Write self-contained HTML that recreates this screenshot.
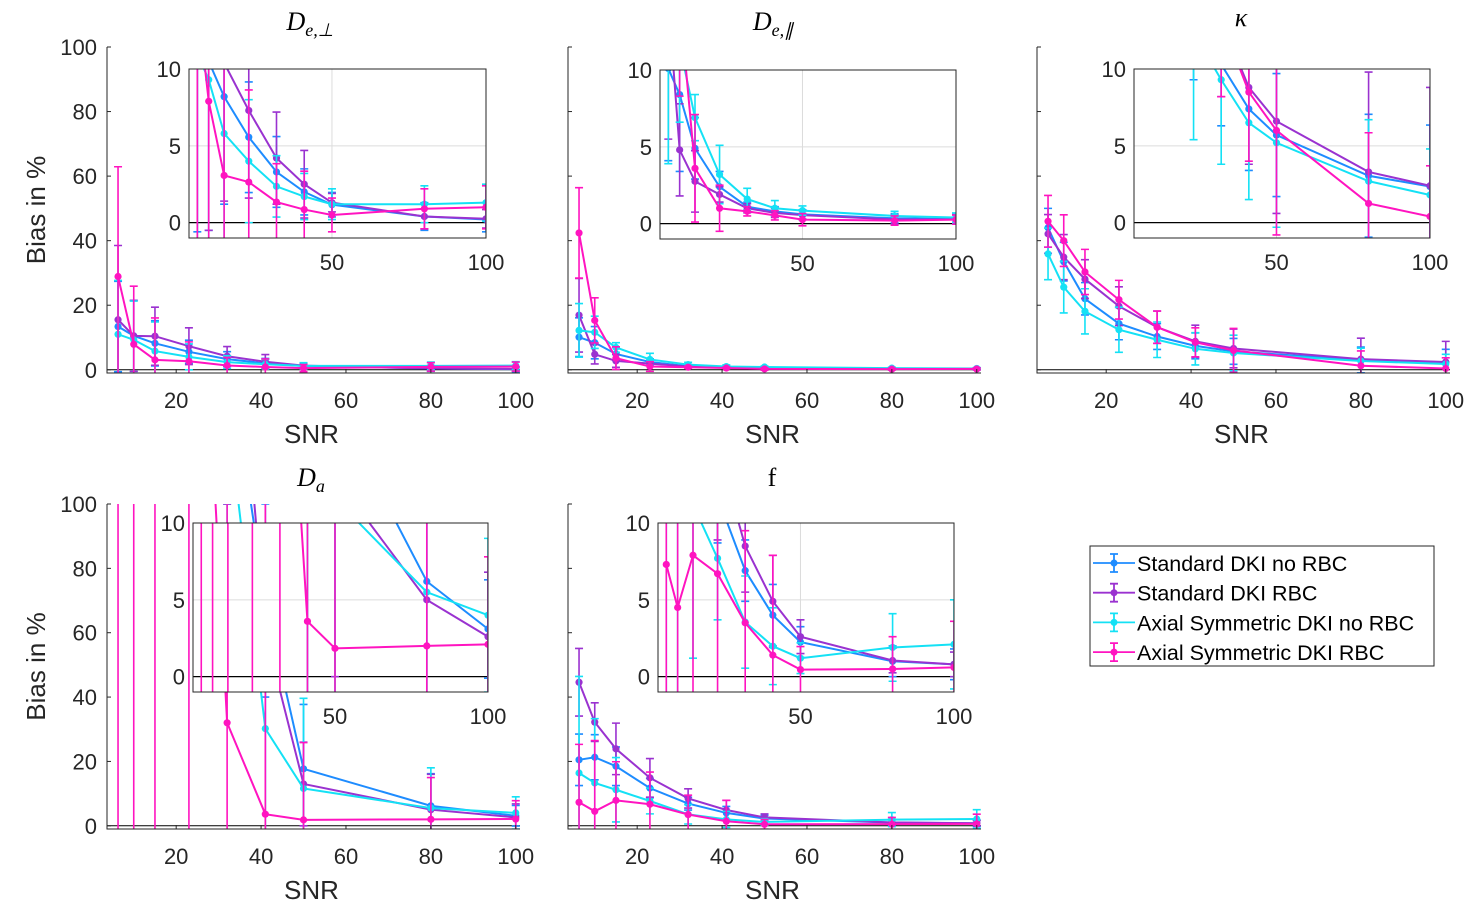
<!DOCTYPE html>
<html><head><meta charset="utf-8"><style>
html,body{margin:0;padding:0;background:#fff;overflow:hidden;width:1478px;height:908px;}
svg{display:block;font-family:"Liberation Sans",sans-serif;overflow:hidden;}
</style></head><body>
<svg id="fig" width="1478" height="908" viewBox="0 0 1478 908" xmlns="http://www.w3.org/2000/svg">
<defs></defs>
</svg>
<script>
const snr = [6.3,10,15,23,32,41,50,80,100];
const xTicks = [20,40,60,80,100];
const yTicks = [0,20,40,60,80,100];
const insetXTicks = [50,100];
const insetYTicks = [0,5,10];
const seriesNames = ["Standard DKI no RBC","Standard DKI RBC","Axial Symmetric DKI no RBC","Axial Symmetric DKI RBC"];
const seriesColors = ["#1E8CFF","#9A32D0","#14E1F5","#FF14C0"];

// Panel 1: De,perp
const p1_blue = [13.4,10.5,8.2,5.56,3.3,2.0,1.17,0.4,0.2];
const p1_blue_err = [14,11,7,3.6,2.3,1.5,0.8,0.9,0.8];
const p1_purple = [15.5,10.5,10.4,7.3,4.2,2.5,1.3,0.4,0.25];
const p1_purple_err = [23,11,9,5.7,3,2.2,0.6,0.8,0.6];
const p1_cyan = [11,9.3,5.8,4.0,2.36,1.7,1.2,1.2,1.3];
const p1_cyan_err = [16.7,12,9,4,2,1.5,1.0,1.2,1.2];
const p1_magenta = [28.9,7.9,3.07,2.64,1.34,0.85,0.5,0.9,1.0];
const p1_magenta_err = [34,18,13,6,2.5,2.5,1.1,1.3,1.4];

// Panel 2: De,par
const p2_blue = [10.1,8.4,4.9,2.4,1.1,0.8,0.6,0.35,0.3];
const p2_blue_err = [6,5,2,1,0.3,0.3,0.3,0.3,0.3];
const p2_purple = [16.9,4.8,2.75,1.9,1.0,0.7,0.55,0.27,0.27];
const p2_purple_err = [11.4,3,2,0.5,0.3,0.3,0.3,0.3,0.3];
const p2_cyan = [12.2,11.6,6.9,3.2,1.6,1.0,0.85,0.5,0.4];
const p2_cyan_err = [8.3,5,1.5,1.9,0.7,0.5,0.3,0.3,0.3];
const p2_magenta = [42.4,15.3,3.6,1.0,0.8,0.54,0.26,0.2,0.26];
const p2_magenta_err = [14,7,3.5,1.5,0.3,0.3,0.4,0.3,0.3];

// Panel 3: kappa
const p3_blue = [44,33.5,22,14.3,10.3,7.4,5.7,3.05,2.35];
const p3_blue_err = [6,6,5,5,4,4,4,4,4];
const p3_purple = [42.1,34.9,28.1,19.7,13.2,8.8,6.6,3.3,2.4];
const p3_purple_err = [6,7,6,6,5,5,6,6.5,6.4];
const p3_cyan = [35.9,25.6,18.1,12.4,9.3,6.5,5.2,2.7,1.8];
const p3_cyan_err = [8,8,7,7,5.5,5,5.5,4,3];
const p3_magenta = [46,40,30.3,21.7,13.2,8.5,6.0,1.25,0.4];
const p3_magenta_err = [8,8,7,6,5,4.5,6.8,4.6,3.3];

// Panel 4: Da
const p4_blue = [2000,1500,1000,600,150,70,17.7,6.2,3.1];
const p4_blue_err = [100,100,100,100,50,30,20,10,3.2];
const p4_purple = [2000,1500,1000,600,200,60,13,5.0,2.6];
const p4_purple_err = [100,100,100,100,100,80,13,11,4.2];
const p4_cyan = [2000,1500,1000,600,130,30.2,11.6,5.5,4.0];
const p4_cyan_err = [100,100,100,100,50,40,28,12.5,5];
const p4_magenta = [400,350,320,300,32,3.6,1.84,2.0,2.1];
const p4_magenta_err = [2000,2000,2000,2000,200,200,24,13,5.7];

// Panel 5: f
const p5_blue = [20.5,21.3,18.5,11.7,6.9,4.0,2.25,1.0,0.8];
const p5_blue_err = [8,7,6,3,2,2,1,1,1];
const p5_purple = [44.6,32.2,23.9,14.9,8.5,4.9,2.6,1.05,0.8];
const p5_purple_err = [10.5,6,8,6,3,3,1.1,0.8,0.8];
const p5_cyan = [16.4,13.3,11.2,7.7,3.55,1.98,1.2,1.9,2.1];
const p5_cyan_err = [30,20,10,4,3,2.5,1,2.2,2.9];
const p5_magenta = [7.3,4.5,7.9,6.7,3.5,1.4,0.46,0.5,0.6];
const p5_magenta_err = [18,22,12,10,6,6.5,1.5,2.1,3];

const NS = "http://www.w3.org/2000/svg";
const svg = document.getElementById("fig");
function mk(tag, attrs, parent){
  const e = document.createElementNS(NS, tag);
  for (const k in attrs) e.setAttribute(k, attrs[k]);
  (parent||svg).appendChild(e);
  return e;
}

const panels = [
  {id:"de-perp", main:{l:107,r:520,t:47,b:373}, inset:{l:189,r:486,t:69,b:238}, ylab:true,
   data:[[p1_blue,p1_blue_err],[p1_purple,p1_purple_err],[p1_cyan,p1_cyan_err],[p1_magenta,p1_magenta_err]]},
  {id:"de-par", main:{l:568,r:981,t:47,b:373}, inset:{l:660,r:956,t:70,b:239}, ylab:false,
   data:[[p2_blue,p2_blue_err],[p2_purple,p2_purple_err],[p2_cyan,p2_cyan_err],[p2_magenta,p2_magenta_err]]},
  {id:"kappa", main:{l:1037,r:1450,t:47,b:373}, inset:{l:1134,r:1430,t:69,b:238}, ylab:false,
   data:[[p3_blue,p3_blue_err],[p3_purple,p3_purple_err],[p3_cyan,p3_cyan_err],[p3_magenta,p3_magenta_err]]},
  {id:"da", main:{l:107,r:520,t:504,b:829}, inset:{l:193,r:488,t:523,b:692}, ylab:true,
   data:[[p4_blue,p4_blue_err],[p4_purple,p4_purple_err],[p4_cyan,p4_cyan_err],[p4_magenta,p4_magenta_err]]},
  {id:"f", main:{l:568,r:981,t:504,b:829}, inset:{l:658,r:954,t:523,b:692}, ylab:false,
   data:[[p5_blue,p5_blue_err],[p5_purple,p5_purple_err],[p5_cyan,p5_cyan_err],[p5_magenta,p5_magenta_err]]}
];
const defs = svg.querySelector("defs");

function scales(box, xmin, xmax, ymin, ymax){
  return {
    x: v => box.l + (v - xmin) / (xmax - xmin) * (box.r - box.l),
    y: v => box.b - (v - ymin) / (ymax - ymin) * (box.b - box.t)
  };
}
function cl(v){ return Math.max(0, Math.min(900, v)); }

function drawSeries(g, sc, data, clipId, prefix){
  const cg = mk("g", {"clip-path":"url(#"+clipId+")"}, g);
  data.forEach((d, si) => {
    const vals = d[0], errs = d[1], col = seriesColors[si];
    const sg = mk("g", {}, cg);
    
    
    vals.forEach((v, i) => {
      const x = sc.x(snr[i]);
      const ct = cl(sc.y(v + errs[i])), cb = cl(sc.y(v - errs[i]));
      const eb = mk("path", {d:`M${x},${ct}V${cb}M${x-4},${ct}H${x+4}M${x-4},${cb}H${x+4}`, stroke:col, "stroke-width":1.6, fill:"none"}, sg);
      
      
    });
    const pts = vals.map((v,i)=> sc.x(snr[i]) + "," + cl(sc.y(v))).join(" ");
    const pl = mk("polyline", {points:pts, stroke:col, "stroke-width":2, fill:"none"}, sg);
    
    
    vals.forEach((v,i)=>{
      const c = mk("circle", {cx:sc.x(snr[i]), cy:cl(sc.y(v)), r:3.6, fill:col}, sg);
      
      
    });
  });
}

panels.forEach((p, pi) => {
  const g = mk("g", {});
  
  
  const m = p.main;
  const sc = scales(m, 3.7, 101, -1, 100);
  const cpm = mk("clipPath", {id:"cm"+pi}, defs);
  mk("rect", {x:m.l, y:m.t, width:m.r-m.l, height:m.b-m.t}, cpm);
  const zl = mk("line", {x1:m.l, x2:m.r, y1:sc.y(0), y2:sc.y(0), stroke:"#000", "stroke-width":1}, g);
  
  
  drawSeries(g, sc, p.data, "cm"+pi, p.id + '-main');
  const ax = mk("path", {d:`M${m.l},${m.t}V${m.b}H${m.r}`, stroke:"#262626", "stroke-width":1, fill:"none"}, g);
  
  
  xTicks.forEach(t => {
    const x = sc.x(t);
    mk("line", {x1:x, x2:x, y1:m.b, y2:m.b-4, stroke:"#262626"}, g);
    const tx = mk("text", {x:x, y:m.b+35, "font-size":22, "text-anchor":"middle", fill:"#262626"}, g);
    tx.textContent = t;
    
    
  });
  yTicks.forEach(t => {
    const y = sc.y(t);
    mk("line", {x1:m.l, x2:m.l+4, y1:y, y2:y, stroke:"#262626"}, g);
    if (p.ylab){
      const ty = mk("text", {x:m.l-10, y:y+8, "font-size":22, "text-anchor":"end", fill:"#262626"}, g);
      ty.textContent = t;
      
      
    }
  });
  const xl = mk("text", {x:(m.l+m.r)/2-2, y:m.b+70, "font-size":26, "text-anchor":"middle", fill:"#262626"}, g);
  xl.textContent = "SNR";
  
  
  if (p.ylab){
    const cy = (m.t+m.b)/2;
    const yl = mk("text", {x:45, y:cy, "font-size":26, "text-anchor":"middle", fill:"#262626", transform:`rotate(-90 45 ${cy})`}, g);
    yl.textContent = "Bias in %";
    
    
  }
  const n = p.inset;
  const ig = mk("g", {}, g);
  
  
  const isc = scales(n, 3.6, 100, -1, 10);
  mk("rect", {x:n.l, y:n.t, width:n.r-n.l, height:n.b-n.t, fill:"#fff"}, ig);
  mk("line", {x1:n.l, x2:n.r, y1:isc.y(5), y2:isc.y(5), stroke:"#dcdcdc"}, ig);
  mk("line", {x1:isc.x(50), x2:isc.x(50), y1:n.t, y2:n.b, stroke:"#dcdcdc"}, ig);
  mk("line", {x1:n.l, x2:n.r, y1:isc.y(0), y2:isc.y(0), stroke:"#000", "stroke-width":1.2}, ig);
  const cpi = mk("clipPath", {id:"ci"+pi}, defs);
  mk("rect", {x:n.l, y:n.t, width:n.r-n.l, height:n.b-n.t}, cpi);
  drawSeries(ig, isc, p.data, "ci"+pi, p.id + '-inset');
  mk("rect", {x:n.l, y:n.t, width:n.r-n.l, height:n.b-n.t, fill:"none", stroke:"#262626", "stroke-width":1}, ig);
  insetYTicks.forEach(t => {
    const y = isc.y(t);
    const ty = mk("text", {x:n.l-8, y:y+8, "font-size":22, "text-anchor":"end", fill:"#262626"}, ig);
    ty.textContent = t;
    
    
  });
  insetXTicks.forEach(t => {
    const x = isc.x(t);
    const tx = mk("text", {x:x, y:n.b+32, "font-size":22, "text-anchor":"middle", fill:"#262626"}, ig);
    tx.textContent = t;
    
    
  });
});

function title(x, y, main, sub, italic, name){
  const t = mk("text", {x:x, y:y, "font-size":26, "text-anchor":"middle", "font-family":"'Liberation Serif',serif", "font-style":italic?"italic":"normal", fill:"#000"});
  
  
  const a = mk("tspan", {}, t); a.textContent = main;
  if (sub){ const b = mk("tspan", {"font-size":18, dy:6}, t); b.textContent = sub; }
}
title(310, 30, "D", "e,\u22A5", true, "title-de-perp");
title(773, 30, "D", "e,\u2225", true, "title-de-par");
title(1241, 26, "\u03BA", null, true, "title-kappa");
title(311, 486, "D", "a", true, "title-da");
title(772, 486, "f", null, false, "title-f");

const lg = mk("g", {});


mk("rect", {x:1090, y:546, width:344, height:120, fill:"#fff", stroke:"#262626", "stroke-width":1}, lg);
seriesNames.forEach((nm, i) => {
  const y = 563 + i*29.7, c = seriesColors[i];
  const e = mk("g", {}, lg);
  
  
  mk("path", {d:`M1093,${y}H1135M1114,${y-9}V${y+9}M1110,${y-9}H1118M1110,${y+9}H1118`, stroke:c, "stroke-width":1.8, fill:"none"}, e);
  mk("circle", {cx:1114, cy:y, r:3.5, fill:c}, e);
  const t = mk("text", {x:1137, y:y+8, "font-size":21.5, fill:"#000"}, e);
  t.textContent = nm;
});
</script>
</body></html>
